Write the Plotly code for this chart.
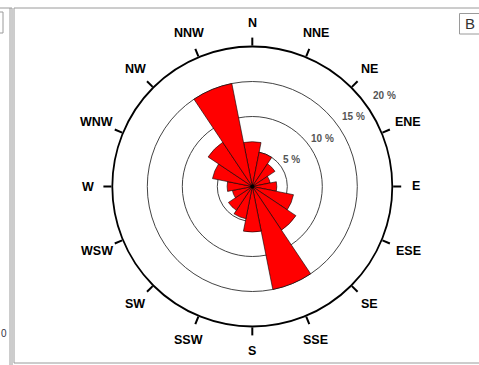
import numpy as np
import plotly.graph_objects as go

# Wind direction sectors and their frequency of occurrence (%)
directions = ["N", "NNE", "NE", "ENE", "E", "ESE", "SE", "SSE",
              "S", "SSW", "SW", "WSW", "W", "WNW", "NW", "NNW"]
frequency = [6.4, 5.0, 3.9, 2.6, 3.5, 6.0, 7.5, 15.0,
             6.5, 4.7, 4.1, 2.9, 3.6, 5.8, 7.6, 15.0]

# Concentric reference rings
ring_ticks = [5, 10, 15, 20]
ring_labels = ["5 %", "10 %", "15 %", "20 %"]

W, H = 479, 365
cx, cy, R = 252.3, 186.5, 140.0   # centre and outer radius of the rose, px
rmax = 20
sector = 360 / len(directions)
angles = np.arange(len(directions)) * sector


def px(x):
    return x / W


def py(y):
    return 1 - y / H


fig = go.Figure()
fig.add_trace(go.Barpolar(
    r=frequency, theta=angles, width=sector,
    marker=dict(color="#ff0000", line=dict(color="black", width=0.6)),
    opacity=1, hoverinfo="skip",
))
# small hub at the centre
fig.add_trace(go.Scatterpolar(
    r=[0], theta=[0], mode="markers",
    marker=dict(color="black", size=4), hoverinfo="skip",
))

annotations = []

# compass labels around the outer ring
for ang, name in zip(angles, directions):
    a = np.deg2rad(ang)
    d = 164 + 5 * abs(np.sin(a)) * (len(name) - 1) / 2
    annotations.append(dict(
        x=px(cx + d * np.sin(a)), y=py(cy - d * np.cos(a)),
        xref="paper", yref="paper", text=name, showarrow=False,
        font=dict(family="Arial", size=12.5, color="black", weight="bold"),
        xanchor="center", yanchor="middle",
    ))

# ring labels, placed just outside each ring along a common bearing
label_bearing = np.deg2rad(55.5)
for t, lab in zip(ring_ticks, ring_labels):
    rp = (t * 1.08 + 1.4) * R / rmax
    annotations.append(dict(
        x=px(cx + rp * np.sin(label_bearing)), y=py(cy - rp * np.cos(label_bearing)),
        xref="paper", yref="paper", text=lab, showarrow=False,
        font=dict(family="Arial", size=10, color="#555555", weight="bold"),
        xanchor="center", yanchor="middle",
    ))

# panel letter
annotations.append(dict(
    x=px(470), y=py(24), xref="paper", yref="paper", text="B", showarrow=False,
    font=dict(family="Arial", size=15, color="#333333"),
    xanchor="center", yanchor="middle",
))
# tick label of the neighbouring panel
annotations.append(dict(
    x=px(0), y=py(333), xref="paper", yref="paper", text="0", showarrow=False,
    font=dict(family="Arial", size=10, color="#333344"),
    xanchor="left", yanchor="middle", borderpad=0,
))

frame = "#9a9a9a"
shapes = [
    # main panel border
    dict(type="rect", x0=px(14), x1=px(482), y0=py(8), y1=py(363),
         xref="paper", yref="paper", line=dict(color=frame, width=1)),
    # neighbouring panel edges
    dict(type="line", x0=px(10), x1=px(10), y0=py(8), y1=py(366),
         xref="paper", yref="paper", line=dict(color=frame, width=1)),
    dict(type="line", x0=px(12), x1=px(12), y0=py(8), y1=py(366),
         xref="paper", yref="paper", line=dict(color=frame, width=1)),
    dict(type="line", x0=px(-2), x1=px(12), y0=py(8), y1=py(8),
         xref="paper", yref="paper", line=dict(color=frame, width=1)),
    dict(type="rect", x0=px(-20), x1=px(3), y0=py(12), y1=py(33),
         xref="paper", yref="paper", line=dict(color=frame, width=1)),
    # letter box
    dict(type="rect", x0=px(459.5), x1=px(482), y0=py(13.5), y1=py(34),
         xref="paper", yref="paper", line=dict(color=frame, width=1)),
]

fig.update_layout(
    width=W, height=H, margin=dict(l=0, r=0, t=0, b=0),
    paper_bgcolor="white", showlegend=False,
    annotations=annotations, shapes=shapes,
    polar=dict(
        domain=dict(x=[px(cx - R), px(cx + R)], y=[py(cy + R), py(cy - R)]),
        bgcolor="white",
        angularaxis=dict(
            direction="clockwise", rotation=90,
            tickmode="array", tickvals=angles, showticklabels=False,
            ticks="outside", ticklen=8, tickwidth=1.5, tickcolor="black",
            showline=True, linecolor="black", linewidth=1.8,
            showgrid=False, layer="below traces",
        ),
        radialaxis=dict(
            range=[0, rmax], tickmode="array", tickvals=ring_ticks,
            showticklabels=False, ticks="", showline=False,
            showgrid=True, gridcolor="#444444", gridwidth=1,
            layer="below traces",
        ),
    ),
)

fig.write_html("out.html")
